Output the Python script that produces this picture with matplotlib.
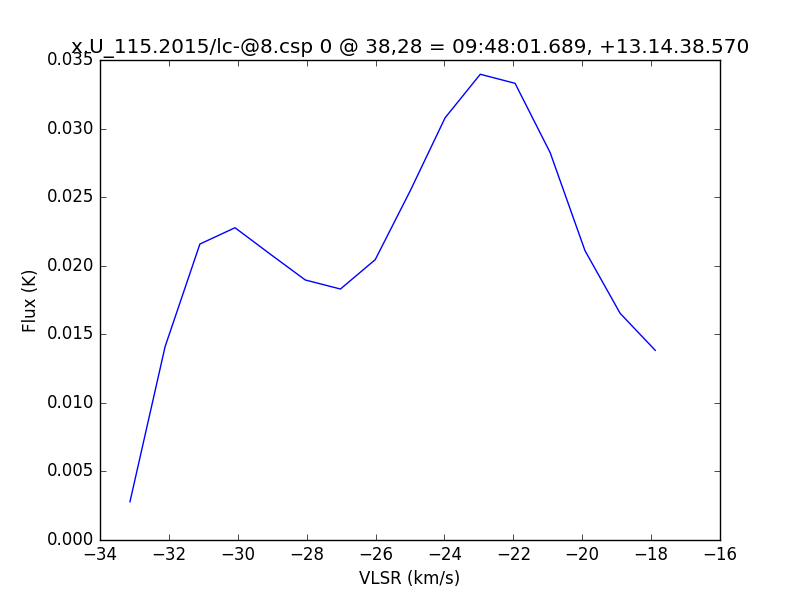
import matplotlib
matplotlib.use('Agg')
import matplotlib.pyplot as plt

plt.style.use('classic')

# spectrum
vlsr = [-33.13, -32.11, -31.10, -30.08, -29.06, -28.04, -27.02, -26.01,
        -24.99, -23.98, -22.96, -21.95, -20.93, -19.92, -18.90, -17.88]
flux = [0.00279, 0.01410, 0.02158, 0.02277, 0.02085, 0.01896, 0.01830, 0.02044,
        0.02548, 0.03079, 0.03396, 0.03330, 0.02824, 0.02110, 0.01653, 0.01383]

fig = plt.figure(figsize=(8, 6))
plt.plot(vlsr, flux, 'b-')
plt.xlim(-34, -16)
plt.ylim(0, 0.035)
plt.xlabel('VLSR (km/s)')
plt.ylabel('Flux (K)')
plt.title('x.U_115.2015/lc-@8.csp 0 @ 38,28 = 09:48:01.689, +13.14.38.570')
plt.savefig('out.png', dpi=100, facecolor='white')
